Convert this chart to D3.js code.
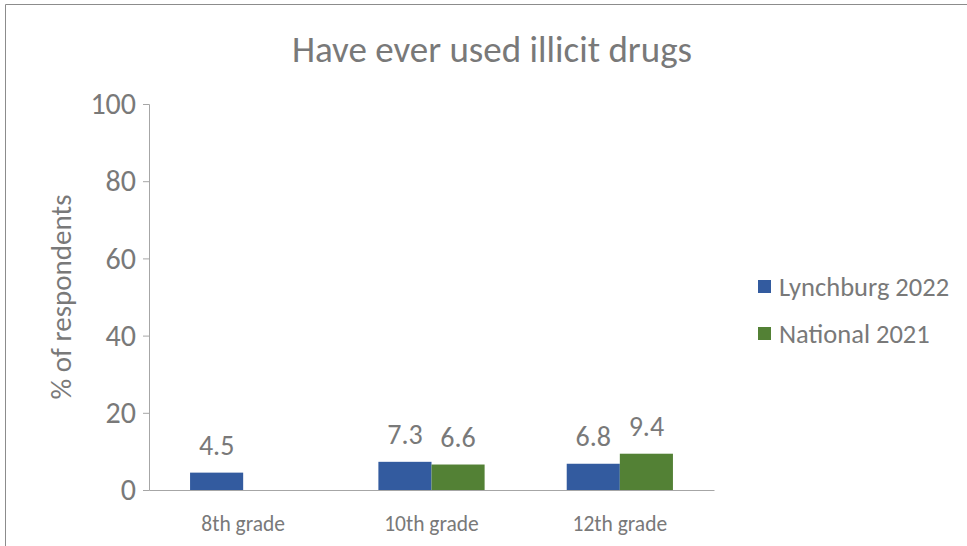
<!DOCTYPE html>
<html><head><meta charset="utf-8">
<script src="https://cdn.jsdelivr.net/npm/d3@7"></script>
<style>body{margin:0;background:#fff}svg{display:block}text{font-family:Carlito,Calibri,Lato,sans-serif;fill:#797979}</style>
</head><body><svg id="c" width="967" height="546"></svg>
<script>
const categories = ["8th grade", "10th grade", "12th grade"];
const seriesNames = ["Lynchburg 2022", "National 2021"];
const lynchburg2022 = [4.5, 7.3, 6.8];
const national2021 = [null, 6.6, 9.4];
const yTicks = [0, 20, 40, 60, 80, 100];
const colors = ["#335b9f", "#538135"];
const FONT = "Carlito,Calibri,Lato,sans-serif";
const TXT = "#797979";

const svg = d3.select("#c");
svg.append("path").attr("d","M5.5,546 V4.5 H967").attr("fill","none").attr("stroke","#8c8c8c").attr("stroke-width",1);

const m = {left:149, right:714, top:104, bottom:490};
const x = d3.scaleBand().domain(categories).range([m.left, m.right]).paddingInner(0.436).paddingOuter(0.218);
const xs = d3.scaleBand().domain(seriesNames).range([0, x.bandwidth()]);
const y = d3.scaleLinear().domain([0,100]).range([m.bottom, m.top]);

svg.append("text").attr("x",492).attr("y",62).attr("text-anchor","middle").style("font-size","37px").text("Have ever used illicit drugs");

const ya = svg.append("g").attr("transform",`translate(${m.left},0)`)
  .call(d3.axisLeft(y).tickValues(yTicks).tickSize(6).tickPadding(7).tickFormat(d3.format("d")));
ya.selectAll("path,line").attr("stroke","#a6a6a6");
ya.selectAll("text").style("font-size","30px").attr("fill",TXT).style("font-family",FONT);

const xa = svg.append("g").attr("transform",`translate(0,${m.bottom})`)
  .call(d3.axisBottom(x).tickSize(0).tickPadding(26).tickSizeOuter(0));
xa.select("path").attr("stroke","#a6a6a6");
xa.selectAll("text").style("font-size","21.5px").attr("fill",TXT).style("font-family",FONT);

svg.append("text").attr("transform",`translate(71,${(m.top+m.bottom)/2}) rotate(-90)`).attr("text-anchor","middle").style("font-size","29px").text("% of respondents");

const series = [lynchburg2022, national2021];
series.forEach((vals, si) => {
  const data = categories.map((c,i)=>({c, v: vals[i]})).filter(d=>d.v!=null);
  const g = svg.append("g");
  g.selectAll("rect").data(data).join("rect")
    .attr("x", d=>x(d.c)+xs(seriesNames[si])).attr("width", xs.bandwidth())
    .attr("y", d=>y(d.v)).attr("height", d=>y(0)-y(d.v)).attr("fill", colors[si]);
  g.selectAll("text").data(data).join("text")
    .attr("x", d=>x(d.c)+xs(seriesNames[si])+xs.bandwidth()/2).attr("y", d=>y(d.v)-18)
    .attr("text-anchor","middle").style("font-size","28px").text(d=>d3.format(".1f")(d.v));
});

const lg = svg.append("g").attr("transform","translate(758,280)");
seriesNames.forEach((n,i)=>{
  lg.append("rect").attr("x",0).attr("y",i*47).attr("width",13).attr("height",13).attr("fill",colors[i]);
  lg.append("text").attr("x",21).attr("y",i*47+16).style("font-size","26.5px").text(n);
});
</script></body></html>
